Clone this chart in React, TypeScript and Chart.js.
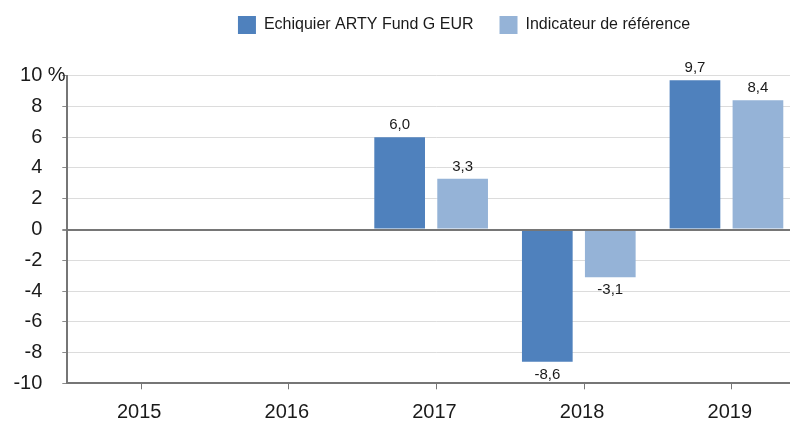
import React, { useEffect, useRef } from 'react';
import { Chart, registerables } from 'chart.js';

Chart.register(...registerables);

// ---- data ----
const years = ['2015', '2016', '2017', '2018', '2019'];
const fundReturns: (number | null)[] = [null, null, 6.0, -8.6, 9.7];
const benchmarkReturns: (number | null)[] = [null, null, 3.3, -3.1, 8.4];
const seriesNames = ['Echiquier ARTY Fund G EUR', 'Indicateur de référence'];
const seriesColors = ['#4f81bd', '#95b3d7'];
const yMin = -10;
const yMax = 10;
const yStep = 2;
const unitLabel = '%';

// ---- style ----
const FONT = '"Liberation Sans", Arial, sans-serif';
const TEXT = '#1a1a1a';
const AXIS = '#767676';
const GRID = '#dcdcdc';
const Y_TICK_LEN = 5;
const Y_TICK_PAD = 20;
const CANVAS_W = 928;
const CANVAS_H = 421;

const fmt = (v: number) => v.toFixed(1).replace('.', ',');

const valueLabels = {
  id: 'valueLabels',
  afterDatasetsDraw(chart: any) {
    const ctx = chart.ctx;
    const ys = chart.scales.y;
    const area = chart.chartArea;
    // zero line above the columns
    ctx.save();
    ctx.strokeStyle = AXIS;
    ctx.lineWidth = 2;
    const zy = Math.round(ys.getPixelForValue(0));
    ctx.beginPath();
    ctx.moveTo(area.left, zy);
    ctx.lineTo(area.right, zy);
    ctx.stroke();
    ctx.restore();

    ctx.save();
    ctx.font = `15px ${FONT}`;
    ctx.fillStyle = TEXT;
    ctx.textAlign = 'center';
    ctx.textBaseline = 'alphabetic';
    chart.data.datasets.forEach((ds: any, di: number) => {
      const meta = chart.getDatasetMeta(di);
      meta.data.forEach((el: any, i: number) => {
        const v = ds.data[i].y;
        if (v == null) return;
        const { x, y } = el.getProps(['x', 'y'], true);
        ctx.fillText(fmt(v), x, v >= 0 ? y - 8 : y + 17);
      });
    });
    ctx.restore();
  },
};

const unitTickLabel = {
  id: 'unitTickLabel',
  afterDraw(chart: any) {
    const s = chart.scales.y;
    const ctx = chart.ctx;
    ctx.save();
    ctx.font = `20px ${FONT}`;
    ctx.fillStyle = TEXT;
    ctx.textAlign = 'left';
    ctx.textBaseline = 'middle';
    const num = String(yMax);
    const right = s.right - Y_TICK_LEN - Y_TICK_PAD;
    ctx.fillText(`${num} ${unitLabel}`, right - ctx.measureText(num).width, s.getPixelForValue(yMax));
    ctx.restore();
  },
};

export default function App() {
  const ref = useRef<HTMLCanvasElement>(null);

  useEffect(() => {
    if (!ref.current) return;
    const seriesValues = [fundReturns, benchmarkReturns];
    const chart = new Chart(ref.current, {
      type: 'bar',
      data: {
        labels: years,
        datasets: seriesNames.map((name, k) => ({
          label: name,
          data: years.map((_, i) => ({ x: i, y: seriesValues[k][i] })),
          backgroundColor: seriesColors[k],
          borderWidth: 0,
          xAxisID: 'xb',
          yAxisID: 'y',
          categoryPercentage: 0.853,
          barPercentage: 0.805,
        })),
      },
      options: {
        responsive: false,
        animation: false,
        events: [],
        layout: { padding: { top: -10, left: 0, right: 0, bottom: 0 } },
        plugins: {
          tooltip: { enabled: false },
          legend: {
            position: 'top',
            align: 'center',
            labels: {
              boxWidth: 18,
              boxHeight: 18,
              padding: 26,
              color: TEXT,
              font: { family: FONT, size: 16 },
              generateLabels: (c: any) =>
                (Chart.defaults.plugins.legend.labels as any)
                  .generateLabels(c)
                  .map((l: any) => ({ ...l, lineWidth: 0, strokeStyle: 'rgba(0,0,0,0)' })),
            },
          },
        },
        scales: {
          xb: {
            type: 'linear',
            display: false,
            offset: false,
            bounds: 'data',
            min: -0.464,
            max: years.length - 0.464,
          },
          x: {
            type: 'category',
            position: 'bottom',
            offset: true,
            grid: {
              offset: false,
              drawOnChartArea: false,
              drawTicks: true,
              tickLength: 6,
              tickColor: AXIS,
            },
            border: { display: true, color: AXIS, width: 2 },
            ticks: {
              color: TEXT,
              font: { family: FONT, size: 20 },
              padding: 11,
              labelOffset: -2,
              maxRotation: 0,
            },
            afterFit: (s: any) => {
              s.height = 37.7;
            },
          },
          topPad: {
            type: 'linear',
            position: 'top',
            display: true,
            grid: { display: false },
            border: { display: false },
            ticks: { display: false },
            afterFit: (s: any) => {
              const lg = s.chart.legend;
              s.height = 85.7 - (lg ? lg.height : 0);
            },
          },
          rightPad: {
            type: 'linear',
            position: 'right',
            display: true,
            grid: { display: false },
            border: { display: false },
            ticks: { display: false },
            afterFit: (s: any) => {
              s.width = CANVAS_W - 805.6;
            },
          },
          y: {
            type: 'linear',
            position: 'left',
            min: yMin,
            max: yMax,
            grid: {
              color: (c: any) => (c.tick && c.tick.value === 0 ? AXIS : GRID),
              lineWidth: (c: any) => (c.tick && c.tick.value === 0 ? 2 : 1),
              drawTicks: true,
              tickLength: Y_TICK_LEN,
              tickColor: '#8a8a8a',
            },
            border: { display: true, color: AXIS, width: 2 },
            ticks: {
              stepSize: yStep,
              color: TEXT,
              font: { family: FONT, size: 20 },
              padding: Y_TICK_PAD,
              callback: (v: any) => (v === yMax ? '' : String(v)),
            },
            afterFit: (s: any) => {
              s.width = 67.3;
            },
          },
        },
      } as any,
      plugins: [valueLabels, unitTickLabel],
    });
    return () => chart.destroy();
  }, []);

  return (
    <div
      style={{
        position: 'fixed',
        left: 0,
        top: 0,
        width: 790,
        height: 421,
        overflow: 'hidden',
        background: '#ffffff',
      }}
    >
      <canvas
        ref={ref}
        width={CANVAS_W}
        height={CANVAS_H}
        style={{ display: 'block', width: CANVAS_W, height: CANVAS_H }}
      />
    </div>
  );
}
